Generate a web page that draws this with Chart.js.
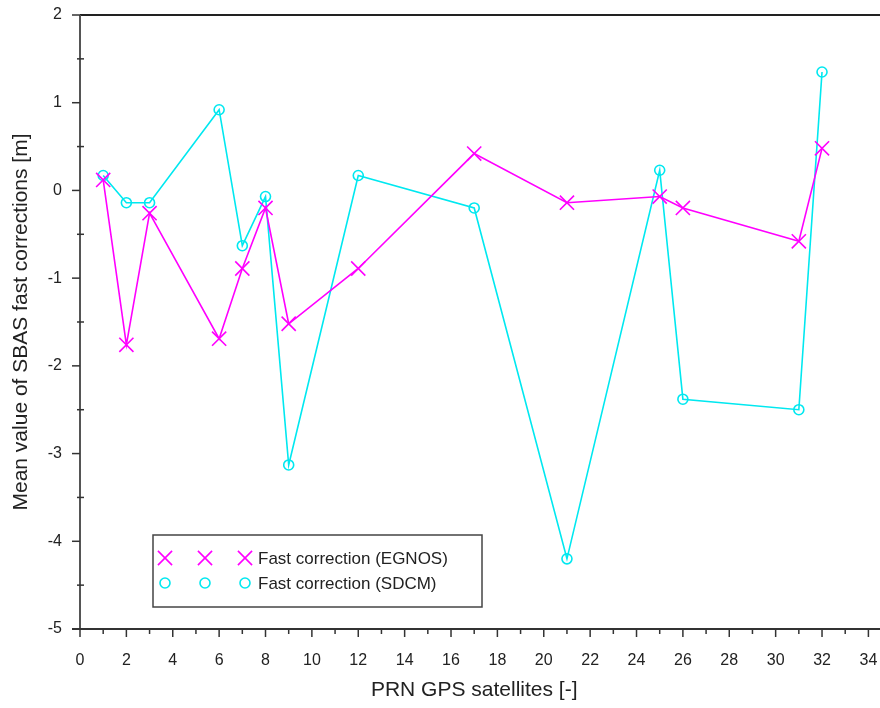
<!DOCTYPE html>
<html>
<head>
<meta charset="utf-8">
<script src="https://cdn.jsdelivr.net/npm/chart.js@4"></script>
<style>
  html, body { margin: 0; padding: 0; background: #fff; }
</style>
</head>
<body>
<canvas id="chart" width="880" height="708"></canvas>
<script>
// PRN numbers and mean fast corrections [m]
const prn = [1, 2, 3, 6, 7, 8, 9, 12, 17, 21, 25, 26, 31, 32];
const egnos = [0.12, -1.76, -0.26, -1.69, -0.89, -0.20, -1.52, -0.89, 0.42, -0.14, -0.07, -0.20, -0.58, 0.48];
const sdcm = [0.17, -0.14, -0.14, 0.92, -0.63, -0.07, -3.13, 0.17, -0.20, -4.20, 0.23, -2.38, -2.50, 1.35];
const seriesNames = ['Fast correction (EGNOS)', 'Fast correction (SDCM)'];
const xTitle = 'PRN GPS satellites [-]';
const yTitle = 'Mean value of SBAS fast corrections [m]';

const MAGENTA = 'rgb(255,0,255)';
const CYAN = 'rgb(0,232,240)';

function toPoints(vals) {
  return prn.map((p, i) => ({x: p, y: vals[i]}));
}

// axis lines, top frame line and tick marks (major + minor)
const axisFrame = {
  id: 'axisFrame',
  afterDraw(chart) {
    const {ctx, chartArea: a} = chart;
    const x = chart.scales.x, y = chart.scales.y;
    const line = (x1, y1, x2, y2) => { ctx.beginPath(); ctx.moveTo(x1, y1); ctx.lineTo(x2, y2); ctx.stroke(); };
    ctx.save();
    ctx.strokeStyle = '#222';
    ctx.lineWidth = 2;
    line(a.left, a.top, chart.width, a.top);
    ctx.strokeStyle = '#555';
    line(a.left, a.top, a.left, a.bottom);
    ctx.strokeStyle = '#333';
    line(a.left - 8, a.bottom, chart.width, a.bottom);
    ctx.lineWidth = 1.5;
    x.ticks.forEach(t => {
      const px = x.getPixelForValue(t.value);
      line(px, a.bottom, px, a.bottom + 8);
      const m = x.getPixelForValue(t.value + 1);
      if (m < chart.width) line(m, a.bottom, m, a.bottom + 5);
    });
    y.ticks.forEach(t => {
      const py = y.getPixelForValue(t.value);
      line(a.left - 8, py, a.left, py);
      if (t.value + 0.5 <= y.max) {
        const m = y.getPixelForValue(t.value + 0.5);
        line(a.left - 3, m, a.left + 4, m);
      }
    });
    ctx.restore();
  }
};

// boxed legend inside the plot, three markers per entry
const boxLegend = {
  id: 'boxLegend',
  afterDraw(chart) {
    const {ctx} = chart;
    const bx = 153, by = 535, bw = 329, bh = 72;
    ctx.save();
    ctx.strokeStyle = '#444';
    ctx.lineWidth = 1.5;
    ctx.strokeRect(bx, by, bw, bh);
    ctx.font = '17px "Liberation Sans", Arial, sans-serif';
    ctx.textBaseline = 'middle';
    chart.data.datasets.forEach((ds, i) => {
      const yy = by + 23 + i * 25;
      ctx.strokeStyle = ds.borderColor;
      ctx.fillStyle = 'rgba(0,0,0,0)';
      ctx.lineWidth = 1.6;
      [12, 52, 92].forEach(dx => {
        Chart.helpers.drawPoint(ctx, {
          pointStyle: ds.pointStyle,
          radius: ds.pointStyle === 'circle' ? 5 : ds.pointRadius,
          borderWidth: 1.6,
          rotation: 0
        }, bx + dx, yy);
      });
      ctx.fillStyle = '#222';
      ctx.fillText(ds.label, bx + 105, yy + 1);
    });
    ctx.restore();
  }
};

const data = {
  datasets: [
    {
      label: seriesNames[0],
      data: toPoints(egnos),
      borderColor: MAGENTA,
      backgroundColor: 'rgba(0,0,0,0)',
      pointBorderColor: MAGENTA,
      pointStyle: 'crossRot',
      pointRadius: 10,
      pointBorderWidth: 1.6,
      borderWidth: 1.6,
      tension: 0
    },
    {
      label: seriesNames[1],
      data: toPoints(sdcm),
      borderColor: CYAN,
      backgroundColor: 'rgba(0,0,0,0)',
      pointBorderColor: CYAN,
      pointBackgroundColor: 'rgba(0,0,0,0)',
      pointStyle: 'circle',
      pointRadius: 5,
      pointBorderWidth: 1.6,
      borderWidth: 1.6,
      tension: 0
    }
  ]
};

const tickFont = {family: '"Liberation Sans", Arial, sans-serif', size: 16};
const titleFont = {family: '"Liberation Sans", Arial, sans-serif', size: 21};

const config = {
  type: 'line',
  data: data,
  options: {
    responsive: false,
    animation: false,
    events: [],
    layout: {padding: {top: 15, right: 0, left: 0, bottom: 0}},
    plugins: {legend: {display: false}, tooltip: {enabled: false}},
    scales: {
      x: {
        type: 'linear',
        min: 0,
        max: 34,
        grid: {display: false, drawTicks: false},
        border: {display: false},
        ticks: {stepSize: 2, includeBounds: false, padding: 22, color: '#222', font: tickFont, maxRotation: 0, autoSkip: false},
        title: {display: true, text: xTitle, color: '#222', font: titleFont, padding: {top: 0, bottom: 5}},
        afterFit(s) { s.height = 79; s.paddingLeft = 0; s.paddingRight = 0; }
      },
      y: {
        min: -5,
        max: 2,
        grid: {display: false, drawTicks: false},
        border: {display: false},
        ticks: {stepSize: 1, includeBounds: false, padding: 18, color: '#222', font: tickFont},
        title: {display: true, text: yTitle, color: '#222', font: titleFont, padding: {top: 9, bottom: 0}},
        afterFit(s) { s.width = 80; s.paddingTop = 0; s.paddingBottom = 0; }
      }
    }
  },
  plugins: [axisFrame, boxLegend]
};

const myChart = new Chart(document.getElementById('chart'), config);
</script>
</body>
</html>
